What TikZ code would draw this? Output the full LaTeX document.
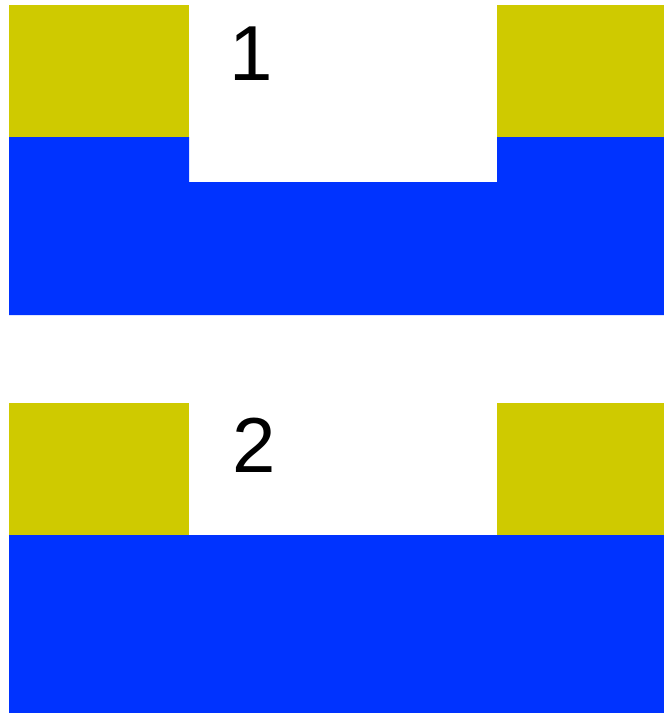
\documentclass[tikz,border=0pt]{standalone}
\usepackage{fontspec}
\setmainfont{Liberation Sans}
\definecolor{yf}{HTML}{CFCA00}
\definecolor{bf}{HTML}{0033FF}

\begin{document}
\begin{tikzpicture}[x=1pt,y=-1pt,
  yl/.style={fill=yf},
  bl/.style={fill=bf},
  lb/.style={font=\fontsize{78}{80}\selectfont,inner sep=0pt}]
\useasboundingbox (0,0) rectangle (664,713);
% stage 1
\fill[yl] (9,5) rectangle (189,138);
\fill[yl] (497,5) rectangle (664,138);
\fill[bl] (9,137) -- (189,137) -- (189,182) -- (497,182) -- (497,137) -- (664,137) -- (664,315) -- (9,315) -- cycle;
\node[lb] (n1) at (251,54) {1};
% stage 2
\fill[yl] (9,403) rectangle (189,536);
\fill[yl] (497,403) rectangle (664,536);
\fill[bl] (9,535) rectangle (664,713);
\node[lb] (n2) at (254,445) {2};
\end{tikzpicture}
\end{document}
